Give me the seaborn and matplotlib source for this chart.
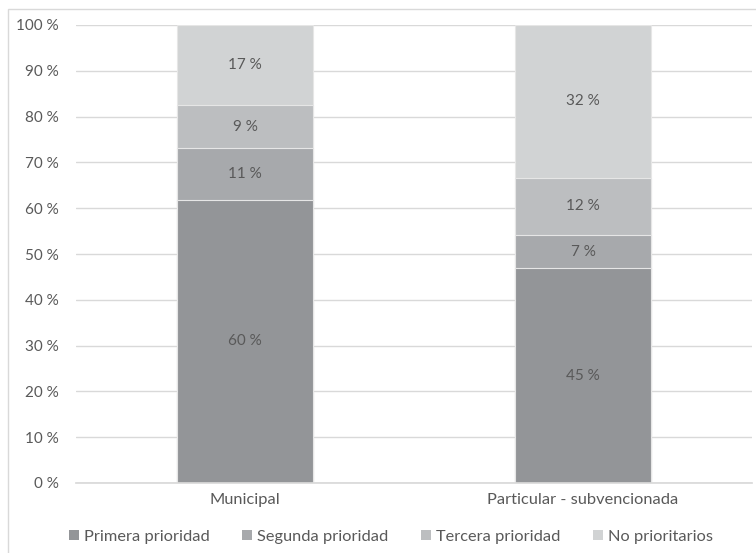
import matplotlib
matplotlib.use("Agg")
import matplotlib.pyplot as plt
from matplotlib.patches import Patch, Rectangle
import seaborn as sns
import pandas as pd
import numpy as np

categories = ["Municipal", "Particular - subvencionada"]
series = ["Primera prioridad", "Segunda prioridad", "Tercera prioridad", "No prioritarios"]
primera = [60, 45]
segunda = [11, 7]
tercera = [9, 12]
no_prioritarios = [17, 32]
yticks = [0, 10, 20, 30, 40, 50, 60, 70, 80, 90, 100]

colors = ["#939598", "#a7a9ac", "#bcbec0", "#d1d3d4"]
text_color = "#595959"

sns.set_theme(style="white")
plt.rcParams["font.family"] = ["Lato", "DejaVu Sans"]

df = pd.DataFrame(
    {"categoria": categories,
     series[0]: primera, series[1]: segunda, series[2]: tercera, series[3]: no_prioritarios}
)
vals = df[series].to_numpy(dtype=float)
shares = vals / vals.sum(axis=1, keepdims=True) * 100
cum = np.cumsum(shares, axis=1)

fig = plt.figure(figsize=(7.56, 5.53), dpi=100)
ax = fig.add_axes([76 / 756, 70 / 553, 676 / 756, 458 / 553])

# outer chart frame
fig.patches.append(Rectangle((8 / 756, -0.1), 1.2, (553 - 9) / 553 + 0.1,
                             transform=fig.transFigure, fill=False,
                             edgecolor="#d9d9d9", linewidth=1.0))

# stacked bars: draw cumulative layers from top to bottom
for i in range(len(series) - 1, -1, -1):
    layer = pd.DataFrame({"categoria": categories, "valor": cum[:, i]})
    sns.barplot(data=layer, x="categoria", y="valor", color=colors[i],
                saturation=1, width=0.4, ax=ax, edgecolor="#e6e6e6",
                linewidth=0.8, zorder=2)

# value labels at segment centres
for j in range(len(categories)):
    for i in range(len(series)):
        bottom = cum[j, i] - shares[j, i]
        ax.text(j, bottom + shares[j, i] / 2, f"{vals[j, i]:.0f} %",
                ha="center", va="center", fontsize=11, color=text_color)

ax.set_ylim(0, 100)
ax.set_xlim(-0.5, 1.5)
ax.set_yticks(yticks)
ax.set_yticklabels([f"{t} %" for t in yticks])
ax.yaxis.grid(True, color="#d9d9d9", linewidth=1.0, zorder=0)
ax.set_axisbelow(True)
ax.set_xlabel("")
ax.set_ylabel("")
for s in ["top", "right", "left"]:
    ax.spines[s].set_visible(False)
ax.spines["bottom"].set_color("#d9d9d9")
ax.tick_params(axis="y", length=0, pad=12.5, labelsize=11, labelcolor=text_color)
ax.tick_params(axis="x", length=0, pad=7, labelsize=11.8, labelcolor=text_color)

handles = [Patch(facecolor=c, edgecolor="none", label=s) for c, s in zip(colors, series)]
fig.legend(handles=handles, loc="center", bbox_to_anchor=(391 / 756, 16 / 553), ncol=4,
           frameon=False, fontsize=11.8, labelcolor=text_color, handlelength=0.6,
           handleheight=0.6, handletextpad=0.3, columnspacing=2.0)

fig.savefig("out.png", dpi=100, facecolor="white")
